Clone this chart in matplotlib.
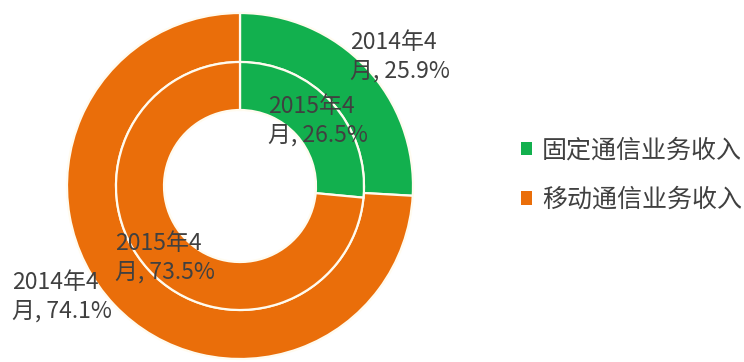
import matplotlib
matplotlib.use("Agg")
import matplotlib.pyplot as plt
from matplotlib.patches import Patch

plt.rcParams['font.family'] = ['Noto Sans CJK SC', 'DejaVu Sans']

# 收入结构：外环 2014年4月，内环 2015年4月
categories = ['固定通信业务收入', '移动通信业务收入']
share_2014 = [25.9, 74.1]
share_2015 = [26.5, 73.5]
year_2014 = '2014年4月'
year_2015 = '2015年4月'
colors = ['#12B04E', '#EA6E0A']
txt = '#404040'

W, H = 744, 362
fig = plt.figure(figsize=(W / 100, H / 100), dpi=100)
ax = fig.add_axes([0, 0, 1, 1])

cx, cy = 240, H - 186
r_out, r_mid, r_in = 173, 124, 76
wedge = dict(edgecolor='#FFFBEF', linewidth=1.6)

ax.pie(share_2014, radius=r_out, center=(cx, cy), colors=colors,
       startangle=90, counterclock=False,
       wedgeprops=dict(width=r_out - r_mid, **wedge), frame=True)
ax.pie(share_2015, radius=r_mid, center=(cx, cy), colors=colors,
       startangle=90, counterclock=False,
       wedgeprops=dict(width=r_mid - r_in, **wedge), frame=True)
ax.set_xlim(0, W)
ax.set_ylim(0, H)
ax.set_aspect('equal')
ax.axis('off')


def label(year, v):
    return year[:-1] + '\n' + year[-1] + ', ' + f'{v:.1f}%'


# 标签位置（左上角）
pos_2014 = [(350, 31), (12, 271)]
pos_2015 = [(268, 95), (115, 232)]
for i in range(2):
    x, y = pos_2014[i]
    ax.text(x, H - y, label(year_2014, share_2014[i]), ha='left', va='top',
            fontsize=16.5, color=txt, linespacing=1.3)
    x, y = pos_2015[i]
    ax.text(x, H - y, label(year_2015, share_2015[i]), ha='left', va='top',
            fontsize=16.5, color=txt, linespacing=1.3)

handles = [Patch(facecolor=c, edgecolor='none') for c in colors]
ax.legend(handles, categories, loc='center left',
          bbox_to_anchor=(521, H - 175), bbox_transform=ax.transData,
          frameon=False, fontsize=18, labelcolor=txt,
          handlelength=0.45, handleheight=0.45, handletextpad=0.4,
          labelspacing=0.95, borderpad=0, borderaxespad=0)

fig.savefig('out.png', dpi=100)
